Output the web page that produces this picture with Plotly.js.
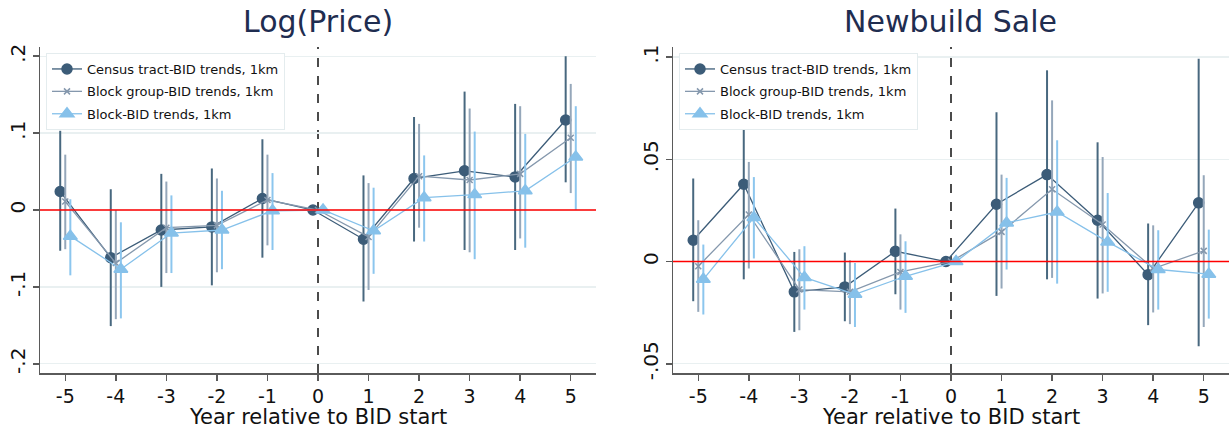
<!DOCTYPE html>
<html><head><meta charset="utf-8">
<script src="https://cdn.plot.ly/plotly-3.0.1.min.js"></script>
<style>html,body{margin:0;padding:0;background:#fff}#chart{width:1231px;height:430px}</style>
</head><body><div id="chart"></div>
<script>
const years = [-5,-4,-3,-2,-1,0,1,2,3,4,5];
const seriesNames = ["Census tract-BID trends, 1km","Block group-BID trends, 1km","Block-BID trends, 1km"];

// Left panel: Log(Price)
const priceTractEst = [0.024,-0.062,-0.026,-0.022,0.015,0,-0.038,0.041,0.051,0.043,0.117];
const priceTractHi  = [0.103,0.027,0.047,0.054,0.092,0,0.045,0.121,0.154,0.138,0.200];
const priceTractLo  = [-0.053,-0.151,-0.100,-0.098,-0.062,0,-0.119,-0.041,-0.052,-0.052,0.036];
const priceGroupEst = [0.011,-0.069,-0.023,-0.020,0.013,0,-0.035,0.044,0.039,0.047,0.094];
const priceGroupHi  = [0.072,0.000,0.037,0.041,0.072,0,0.035,0.112,0.132,0.135,0.164];
const priceGroupLo  = [-0.051,-0.142,-0.082,-0.081,-0.046,0,-0.104,-0.023,-0.055,-0.037,0.022];
const priceBlockEst = [-0.034,-0.077,-0.030,-0.026,-0.001,0,-0.027,0.016,0.020,0.025,0.069];
const priceBlockHi  = [0.014,-0.016,0.019,0.025,0.048,0,0.029,0.071,0.102,0.099,0.135];
const priceBlockLo  = [-0.085,-0.141,-0.082,-0.077,-0.052,0,-0.083,-0.041,-0.064,-0.049,0.000];

// Right panel: Newbuild Sale
const newTractEst = [0.0104,0.0378,-0.0148,-0.0124,0.005,0,0.028,0.0425,0.0202,-0.0064,0.0287];
const newTractHi  = [0.0406,0.084,0.0047,0.0044,0.0259,0,0.073,0.0935,0.0583,0.0186,0.0992];
const newTractLo  = [-0.0194,-0.0087,-0.0344,-0.0292,-0.016,0,-0.0168,-0.0087,-0.0181,-0.0311,-0.0414];
const newGroupEst = [-0.0023,0.023,-0.0137,-0.0148,-0.0051,0,0.0145,0.0353,0.0181,-0.0034,0.0052];
const newGroupHi  = [0.0202,0.0487,0.006,0.0006,0.0133,0,0.0425,0.0788,0.0511,0.0177,0.0422];
const newGroupLo  = [-0.0246,-0.0034,-0.0336,-0.0306,-0.0235,0,-0.0132,-0.008,-0.0156,-0.0249,-0.032];
const newBlockEst = [-0.0087,0.0215,-0.0078,-0.016,-0.0072,0,0.0189,0.0242,0.0096,-0.0039,-0.0062];
const newBlockHi  = [0.0083,0.0413,0.0075,-0.0007,0.0099,0,0.0409,0.0593,0.0335,0.0153,0.0156];
const newBlockLo  = [-0.0259,0.0015,-0.0235,-0.032,-0.0251,0,-0.0039,-0.0108,-0.0148,-0.0235,-0.0279];

const xTickVals = years;
const xTickText = ["-5","-4","-3","-2","-1","0","1","2","3","4","5"];
const priceTickVals = [-0.2,-0.1,0,0.1,0.2];
const priceTickText = ["-.2","-.1","0",".1",".2"];
const newTickVals = [-0.05,0,0.05,0.1];
const newTickText = ["-.05","0",".05",".1"];
const panelTitles = ["Log(Price)","Newbuild Sale"];
const xTitle = "Year relative to BID start";

const styles = [
  {color:"#3c5c78", ecolor:"#48687f", symbol:"circle", size:10, offset:-0.1},
  {color:"#8598ad", ecolor:"#95a7ba", symbol:"x-thin-open", size:6, offset:0},
  {color:"#86c1ea", ecolor:"#8cc6ee", symbol:"triangle-up", size:12, offset:0.1}
];

function mk(est, hi, lo, k, xa, ya, legend){
  const s = styles[k];
  return {
    type:"scatter", mode:"lines+markers", name:seriesNames[k],
    x: years.map(v=>v+s.offset), y: est,
    xaxis:xa, yaxis:ya, legend:legend, legendgroup:legend+"g"+k,
    line:{color:s.color, width:1.3},
    marker:{color:s.color, symbol:s.symbol, size:s.size, line:{color:s.color, width:1.5}},
    error_y:{type:"data", symmetric:false,
      array: hi.map((h,i)=>h-est[i]), arrayminus: lo.map((l,i)=>est[i]-l),
      width:0, thickness:2, color:s.ecolor},
    hoverinfo:"skip"
  };
}

const data = [
  mk(priceTractEst, priceTractHi, priceTractLo, 0, "x", "y", "legend"),
  mk(priceGroupEst, priceGroupHi, priceGroupLo, 1, "x", "y", "legend"),
  mk(priceBlockEst, priceBlockHi, priceBlockLo, 2, "x", "y", "legend"),
  mk(newTractEst, newTractHi, newTractLo, 0, "x2", "y2", "legend2"),
  mk(newGroupEst, newGroupHi, newGroupLo, 1, "x2", "y2", "legend2"),
  mk(newBlockEst, newBlockHi, newBlockLo, 2, "x2", "y2", "legend2")
];

const W = 1231, H = 430;
const font = "DejaVu Sans, sans-serif";
function xax(dom, anchor){
  return {domain:dom, anchor:anchor, range:[-5.5,5.5], tickvals:xTickVals, ticktext:xTickText,
    showgrid:false, zeroline:false, showline:true, linecolor:"#5a5a5a", linewidth:1.5,
    ticks:"outside", ticklen:6, tickcolor:"#5a5a5a", tickwidth:1.5,
    tickfont:{size:19, color:"#111", family:font}, fixedrange:true};
}
function yax(range, tv, tt, anchor){
  return {domain:[1-373/H, 1-47/H], range:range, tickvals:tv, ticktext:tt, anchor:anchor,
    showgrid:true, gridcolor:"#e9f0f1", gridwidth:1.3, zeroline:false,
    showline:true, linecolor:"#5a5a5a", linewidth:1.5,
    ticks:"outside", ticklen:6, tickcolor:"#5a5a5a", tickwidth:1.5, tickangle:-90,
    tickfont:{size:20, color:"#111", family:font}, fixedrange:true};
}
const legendStyle = (x)=>({x:x, y:1-53/H, xanchor:"left", yanchor:"top", xref:"paper", yref:"paper",
  bgcolor:"#ffffff", bordercolor:"#e4ecee", borderwidth:1,
  font:{size:13, color:"#111", family:font}, tracegroupgap:2.5, itemclick:false});

function vline(xa, ya){ return {type:"line", xref:xa, yref:ya+" domain", x0:0, x1:0, y0:0, y1:1, line:{color:"#111", width:1.5, dash:"dash"}, layer:"below"}; }
function hline(xa, ya){ return {type:"line", xref:xa+" domain", yref:ya, x0:0, x1:1, y0:0, y1:0, line:{color:"#ff0000", width:1.5}, layer:"above"}; }

const layout = {
  width:W, height:H, margin:{l:0,r:0,t:0,b:0},
  paper_bgcolor:"#fff", plot_bgcolor:"#fff", font:{family:font},
  xaxis: xax([40/W, 596/W], "y"),
  yaxis: yax([-0.212,0.212], priceTickVals, priceTickText, "x"),
  xaxis2: xax([673/W, 1229/W], "y2"),
  yaxis2: yax([-0.0545,0.1049], newTickVals, newTickText, "x2"),
  legend: legendStyle(46/W),
  legend2: legendStyle(679/W),
  shapes:[vline("x","y"), vline("x2","y2"), hline("x","y"), hline("x2","y2")],
  annotations:[
    {text:panelTitles[0], xref:"paper", yref:"paper", x:318/W, y:1-22/H, xanchor:"center", yanchor:"middle", showarrow:false, font:{size:30, color:"#1f2d50", family:font}},
    {text:panelTitles[1], xref:"paper", yref:"paper", x:951/W, y:1-22/H, xanchor:"center", yanchor:"middle", showarrow:false, font:{size:30, color:"#1f2d50", family:font}},
    {text:xTitle, xref:"paper", yref:"paper", x:318/W, y:1-416.5/H, xanchor:"center", yanchor:"middle", showarrow:false, borderpad:0, font:{size:21, color:"#111", family:font}},
    {text:xTitle, xref:"paper", yref:"paper", x:951/W, y:1-416.5/H, xanchor:"center", yanchor:"middle", showarrow:false, borderpad:0, font:{size:21, color:"#111", family:font}}
  ]
};
Plotly.newPlot("chart", data, layout, {staticPlot:true, displayModeBar:false});
</script>
</body></html>
